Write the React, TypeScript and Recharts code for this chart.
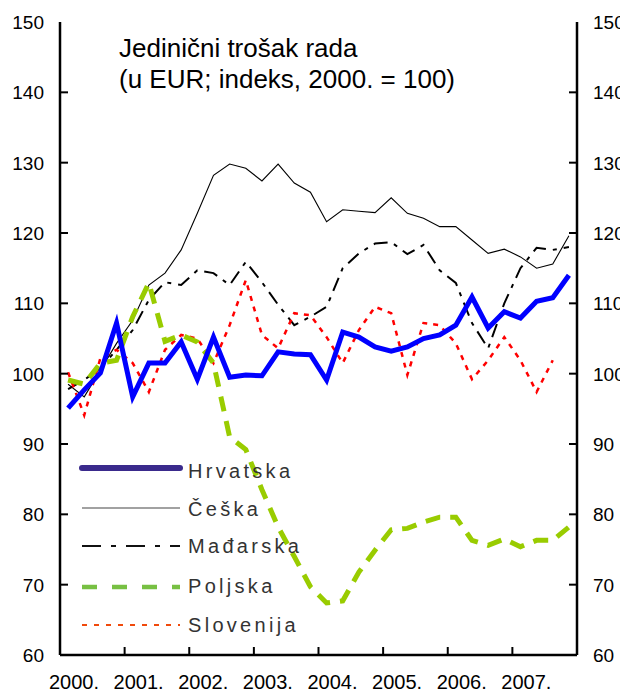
import React from 'react';
import { LineChart, Line, XAxis, YAxis } from 'recharts';

// quarterly index, 2000Q1 .. 2007Q4
const hrvatska = [95.1, 97.7, 100.1, 107.2, 96.7, 101.5, 101.5, 104.5, 99.2, 105.2, 99.5, 99.8, 99.7, 103.1, 102.8, 102.7, 99.1, 105.9, 105.2, 103.8, 103.2, 103.8, 105.0, 105.5, 106.9, 110.9, 106.5, 108.8, 107.9, 110.3, 110.8, 114.0];
const ceska = [98.5, 96.7, 100.5, 104.3, 107.6, 112.6, 114.3, 117.6, 122.8, 128.2, 129.8, 129.2, 127.4, 129.8, 127.1, 125.8, 121.6, 123.3, 123.1, 122.9, 125.0, 122.8, 122.1, 120.9, 120.9, 119.0, 117.1, 117.7, 116.6, 115.0, 115.6, 119.6];
const madarska = [97.8, 99.1, 100.8, 103.4, 106.2, 110.5, 113.0, 112.6, 114.7, 114.3, 112.6, 115.9, 113.0, 109.8, 106.9, 108.1, 109.5, 115.0, 117.1, 118.5, 118.7, 117.0, 118.3, 114.7, 112.9, 107.2, 103.6, 110.0, 115.0, 117.9, 117.6, 118.0];
const poljska = [99.1, 98.5, 101.5, 101.9, 108.1, 112.9, 104.6, 105.5, 104.5, 101.5, 91.0, 89.2, 83.5, 78.2, 74.0, 69.7, 67.4, 67.7, 71.8, 74.9, 77.8, 78.0, 78.9, 79.6, 79.6, 76.3, 75.6, 76.5, 75.4, 76.3, 76.3, 78.2];
const slovenija = [100.2, 94.1, 102.2, 103.4, 101.5, 97.4, 103.4, 105.5, 105.0, 101.5, 106.9, 113.3, 105.5, 103.6, 108.6, 108.3, 105.2, 101.5, 106.2, 109.5, 108.6, 99.8, 107.2, 106.9, 104.3, 99.2, 101.9, 105.2, 101.9, 97.4, 101.9, null];

const years = ['2000.', '2001.', '2002.', '2003.', '2004.', '2005.', '2006.', '2007.'];
const yTicks = [60, 70, 80, 90, 100, 110, 120, 130, 140, 150];
const xTicks = [0, 4, 8, 12, 16, 20, 24, 28, 32];

const data = hrvatska.map((v, i) => ({
  x: i + 0.5,
  hrvatska: v,
  ceska: ceska[i],
  madarska: madarska[i],
  poljska: poljska[i],
  slovenija: slovenija[i],
}));

const FONT = 'Arial, "Liberation Sans", sans-serif';

const XTick = ({ x, payload }: any) => {
  const v = payload.value;
  return (
    <g>
      {v > 0 && v < 32 && <line x1={x} x2={x} y1={655} y2={647} stroke="#000" strokeWidth={2} />}
      {v < 32 && (
        <text x={x + 14} y={689} textAnchor="middle" fontSize={20} fontFamily={FONT} fill="#000">
          {years[v / 4]}
        </text>
      )}
    </g>
  );
};

// draws the tick on both frame sides (same value, same y)
const YTick = ({ y, payload }: any) => {
  const inner = payload.value > 60 && payload.value < 150;
  return (
    <g>
      {inner && <line x1={60} x2={68} y1={y} y2={y} stroke="#000" strokeWidth={2} />}
      {inner && <line x1={569} x2={577} y1={y} y2={y} stroke="#000" strokeWidth={2} />}
      <text x={44} y={y + 7} textAnchor="end" fontSize={19} fontFamily={FONT} fill="#000">
        {payload.value}
      </text>
      <text x={593} y={y + 7} textAnchor="start" fontSize={19} fontFamily={FONT} fill="#000">
        {payload.value}
      </text>
    </g>
  );
};

const legend = [
  { name: 'Hrvatska', color: '#3a2a8c', width: 6, dash: undefined, cap: 'round', y: 468, ty: 478 },
  { name: 'Češka', color: '#444', width: 1.2, dash: undefined, cap: 'butt', y: 508, ty: 516 },
  { name: 'Mađarska', color: '#111', width: 2, dash: '19 10 5 10', cap: 'butt', y: 546, ty: 553 },
  { name: 'Poljska', color: '#77c043', width: 4.5, dash: '15 15', cap: 'butt', y: 587, ty: 593 },
  { name: 'Slovenija', color: '#f04a0c', width: 2, dash: '5 7', cap: 'butt', y: 625, ty: 632 },
];

export default function App() {
  return (
    <div style={{ position: 'absolute', left: 0, top: 0, width: 620, height: 693, background: '#fff' }}>
      <LineChart width={620} height={693} data={data} margin={{ top: 22, right: 0, bottom: 0, left: 0 }}>
        <XAxis
          dataKey="x"
          type="number"
          domain={[0, 32]}
          ticks={xTicks}
          interval={0}
          height={38}
          tickLine={false}
          axisLine={{ stroke: '#000', strokeWidth: 2.5 }}
          tick={<XTick />}
        />
        <XAxis
          xAxisId="top"
          orientation="top"
          dataKey="x"
          type="number"
          domain={[0, 32]}
          height={0}
          tick={false}
          tickLine={false}
          axisLine={{ stroke: '#000', strokeWidth: 2.5 }}
        />
        <YAxis
          yAxisId="l"
          domain={[60, 150]}
          ticks={yTicks}
          interval={0}
          width={60}
          tickLine={false}
          axisLine={{ stroke: '#000', strokeWidth: 2.5 }}
          tick={<YTick />}
        />
        <YAxis
          yAxisId="r"
          orientation="right"
          domain={[60, 150]}
          width={43}
          tick={false}
          tickLine={false}
          axisLine={{ stroke: '#000', strokeWidth: 2.5 }}
        />
        <Line yAxisId="l" dataKey="ceska" stroke="#000" strokeWidth={1.1} dot={false} isAnimationActive={false} />
        <Line yAxisId="l" dataKey="madarska" stroke="#000" strokeWidth={2} strokeDasharray="14 7 4 7" dot={false} isAnimationActive={false} />
        <Line yAxisId="l" dataKey="slovenija" stroke="#ff0000" strokeWidth={2.5} strokeDasharray="5 6" dot={false} isAnimationActive={false} />
        <Line yAxisId="l" dataKey="poljska" stroke="#99cc00" strokeWidth={5} strokeDasharray="15 10" dot={false} isAnimationActive={false} />
        <Line yAxisId="l" dataKey="hrvatska" stroke="#0000ff" strokeWidth={5} dot={false} isAnimationActive={false} />
      </LineChart>
      <svg width={620} height={693} style={{ position: 'absolute', left: 0, top: 0, pointerEvents: 'none' }}>
        <text x={119} y={57} fontSize={26} fontFamily={FONT} fill="#000">Jedinični trošak rada</text>
        <text x={119} y={88} fontSize={26} fontFamily={FONT} fill="#000">(u EUR; indeks, 2000. = 100)</text>
        {legend.map((l) => (
          <g key={l.name}>
            <line x1={82} x2={180} y1={l.y} y2={l.y} stroke={l.color} strokeWidth={l.width} strokeDasharray={l.dash} strokeLinecap={l.cap as any} />
            <text x={188} y={l.ty} fontSize={20} letterSpacing={3.3} fontFamily={FONT} fill="#333">{l.name}</text>
          </g>
        ))}
      </svg>
    </div>
  );
}
